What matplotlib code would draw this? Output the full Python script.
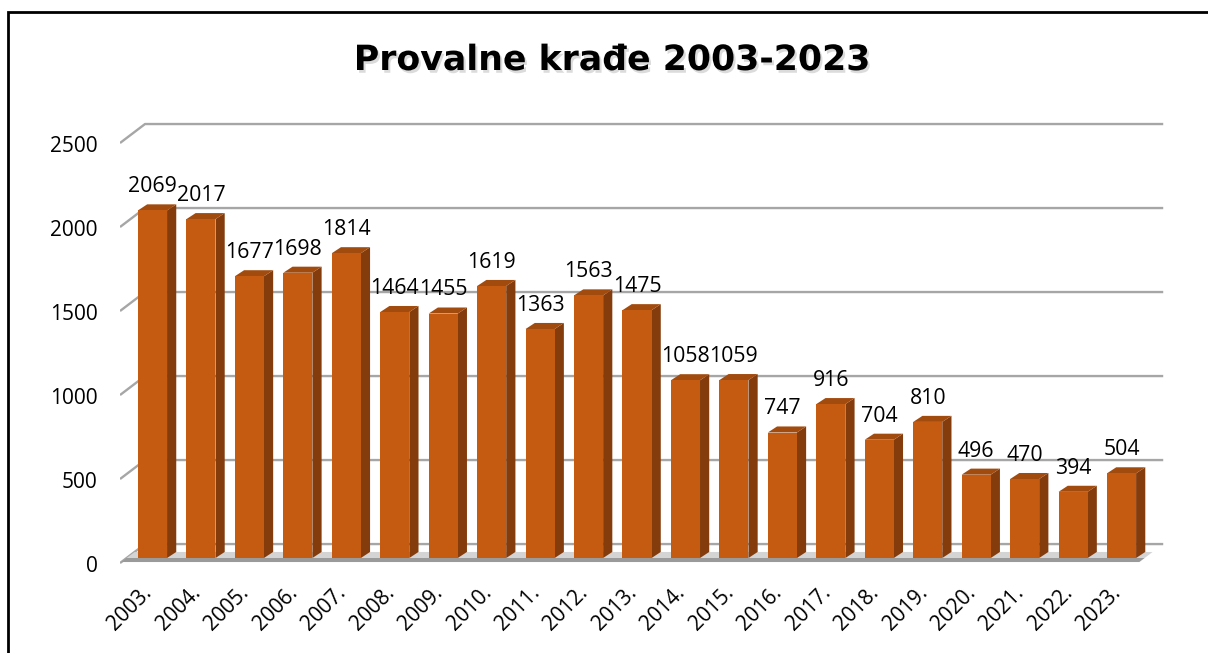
import matplotlib
matplotlib.use("Agg")
import matplotlib.pyplot as plt
from matplotlib.patches import Polygon, Rectangle
from matplotlib.transforms import ScaledTranslation
import matplotlib.patheffects as pe

plt.rcParams['font.family'] = ['Open Sans', 'DejaVu Sans']

title = "Provalne krađe 2003-2023"
years = ["2003.", "2004.", "2005.", "2006.", "2007.", "2008.", "2009.",
         "2010.", "2011.", "2012.", "2013.", "2014.", "2015.", "2016.",
         "2017.", "2018.", "2019.", "2020.", "2021.", "2022.", "2023."]
values = [2069, 2017, 1677, 1698, 1814, 1464, 1455, 1619, 1363, 1563, 1475,
          1058, 1059, 747, 916, 704, 810, 496, 470, 394, 504]
yticks = [0, 500, 1000, 1500, 2000, 2500]

FRONT = '#C55A11'
SIDE = '#843C0C'
TOP = '#A24B0F'
GRID = '#A6A6A6'

W, H = 1208, 653
fig = plt.figure(figsize=(W / 100, H / 100), dpi=100)
ax = fig.add_axes([120 / W, (H - 570) / H, 1050 / W, 450 / H])
ax.set_xlim(-0.671, 21.0)
ax.set_ylim(-71.4, 2607)

# 3d look: depth of bars and of the back wall, in data units
bw = 0.6
ddx, ddy = 0.19, 36
wall_x, wall_dy = -0.155, 83
stub_x, stub_dy = -0.671, -30
grid_end = 20.86

# back wall gridlines with the diagonal stubs on the left
for v in yticks:
    ax.plot([stub_x, wall_x, grid_end], [v + stub_dy, v + wall_dy, v + wall_dy],
            color=GRID, lw=1.7, zorder=1, solid_capstyle='butt')

# floor shading
def floor_x(y, right=False):
    base = 20.34 if right else stub_x
    return base + (wall_x - stub_x) * (y - stub_dy) / (wall_dy - stub_dy)

for y0, y1, c in [(0, 36, '#D4D4D4'), (-24, 0, '#9A9A9A')]:
    ax.add_patch(Polygon([(floor_x(y0), y0), (floor_x(y1), y1),
                          (floor_x(y1, True), y1), (floor_x(y0, True), y0)],
                         closed=True, color=c, lw=0, zorder=1.5))

xs = list(range(len(values)))
for x, v in zip(xs, values):
    ax.add_patch(Polygon([(x + bw / 2, 0), (x + bw / 2 + ddx, ddy),
                          (x + bw / 2 + ddx, v + ddy), (x + bw / 2, v)],
                         closed=True, color=SIDE, lw=0, zorder=2.5))
    ax.add_patch(Polygon([(x - bw / 2, v), (x + bw / 2, v),
                          (x + bw / 2 + ddx, v + ddy), (x - bw / 2 + ddx, v + ddy)],
                         closed=True, color=TOP, lw=0, zorder=2.5))
ax.bar(xs, values, width=bw, color=FRONT, zorder=3)

for x, v in zip(xs, values):
    ax.annotate(str(v), (x, v), xytext=(0, 13), textcoords='offset points',
                ha='center', va='baseline', fontsize=15.3, color='black', zorder=4)

ax.set_yticks(yticks)
ax.tick_params(axis='y', length=0, pad=16, labelsize=15)
for lab in ax.get_yticklabels():
    lab.set_transform(lab.get_transform() + ScaledTranslation(0, -0.06, fig.dpi_scale_trans))

ax.set_xticks(xs)
ax.set_xticklabels(years, rotation=45, ha='right', rotation_mode='anchor')
ax.tick_params(axis='x', length=0, pad=10, labelsize=15)
for lab in ax.get_xticklabels():
    lab.set_transform(lab.get_transform() + ScaledTranslation(-0.11, 0.02, fig.dpi_scale_trans))

for s in ax.spines.values():
    s.set_visible(False)

fig.text(612 / W, 1 - 60 / H, title, ha='center', va='center', fontsize=25,
         fontweight='bold', color='black', family='DejaVu Sans',
         path_effects=[pe.withSimplePatchShadow(offset=(1.5, -2), shadow_rgbFace='#999999', alpha=0.35)])

# outer frame (only the top and left edges are inside the picture)
fig.add_artist(Rectangle((8 / W, -0.1), 1.2, (H - 12) / H + 0.1, transform=fig.transFigure,
                         fill=False, edgecolor='black', lw=2))

fig.savefig("out.png", dpi=100)
